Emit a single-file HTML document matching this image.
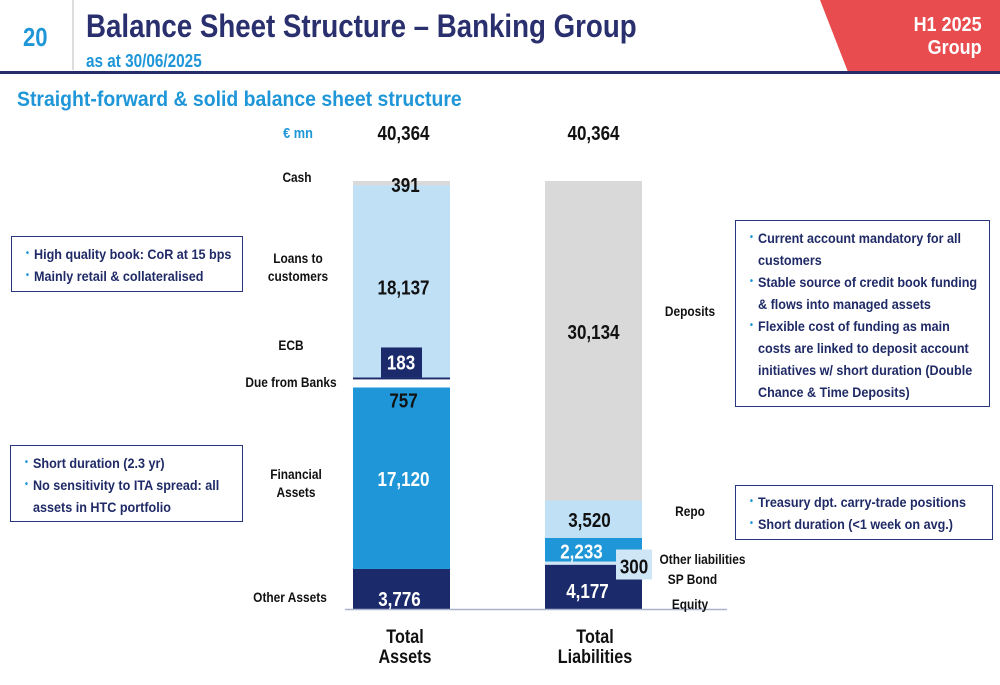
<!DOCTYPE html>
<html><head><meta charset="utf-8"><style>
body{margin:0;width:1000px;height:685px;overflow:hidden;background:#fff;font-family:"Liberation Sans",sans-serif;}
svg text{font-family:"Liberation Sans",sans-serif;}
.box{position:absolute;border:1.5px solid #2a3580;box-sizing:border-box;overflow:hidden;}
.in{position:absolute;left:0;top:0;transform:scaleX(0.9);transform-origin:0 0;color:#1f2a66;font-weight:bold;font-size:14px;line-height:22px;white-space:nowrap;}
.in div.b::before{content:"•";color:#1f96d8;font-size:10px;position:absolute;margin-left:-9px;}
.in div{position:relative;}
.lbl{position:absolute;font-weight:bold;font-size:14px;color:#111;text-align:center;line-height:18px;white-space:nowrap;transform:scaleX(0.85);}
</style></head><body>
<div style="position:absolute;left:0;top:0;width:1000px;height:76px;">
 <div style="position:absolute;left:23px;top:22px;font-size:26px;font-weight:bold;color:#1f96d8;transform:scaleX(0.85);transform-origin:0 0;">20</div>
 <div style="position:absolute;left:72px;top:0;width:2px;height:70px;background:#ddd;"></div>
 <div style="position:absolute;left:86px;top:8px;font-size:32px;font-weight:bold;color:#2a2f6e;white-space:nowrap;transform:scaleX(0.865);transform-origin:0 0;">Balance Sheet Structure – Banking Group</div>
 <div style="position:absolute;left:86px;top:51px;font-size:18px;font-weight:bold;color:#1f96d8;white-space:nowrap;transform:scaleX(0.85);transform-origin:0 0;">as at 30/06/2025</div>
 <svg style="position:absolute;left:820px;top:0" width="180" height="72"><polygon points="0,0 180,0 180,72 28,72" fill="#e84c4f"/></svg>
 <div style="position:absolute;right:18px;top:14px;text-align:right;color:#fff;font-weight:bold;font-size:20px;line-height:23px;transform:scaleX(0.9);transform-origin:100% 0;">H1 2025<br>Group</div>
 <div style="position:absolute;left:0;top:71px;width:1000px;height:3px;background:#262b6a;"></div>
</div>
<div style="position:absolute;left:17px;top:88px;font-size:21px;font-weight:bold;color:#1f96d8;white-space:nowrap;transform:scaleX(0.925);transform-origin:0 0;">Straight-forward &amp; solid balance sheet structure</div>

<svg id="chart" style="position:absolute;left:0;top:0" width="1000" height="685"></svg>

<div class="lbl" style="left:268px;top:125px;width:60px;color:#1f96d8;font-size:15px;">€ mn</div>
<div class="lbl" style="left:262px;top:168px;width:70px;">Cash</div>
<div class="lbl" style="left:258px;top:249px;width:80px;">Loans to<br>customers</div>
<div class="lbl" style="left:256px;top:336px;width:70px;">ECB</div>
<div class="lbl" style="left:236px;top:373px;width:110px;">Due from Banks</div>
<div class="lbl" style="left:256px;top:465px;width:80px;">Financial<br>Assets</div>
<div class="lbl" style="left:245px;top:588px;width:90px;">Other Assets</div>
<div class="lbl" style="left:655px;top:302px;width:70px;">Deposits</div>
<div class="lbl" style="left:655px;top:502px;width:70px;">Repo</div>
<div class="lbl" style="left:652px;top:550px;width:100px;">Other liabilities</div>
<div class="lbl" style="left:655px;top:570px;width:75px;">SP Bond</div>
<div class="lbl" style="left:655px;top:595px;width:70px;">Equity</div>
<div class="lbl" style="left:355px;top:628px;width:100px;font-size:19px;line-height:20px;">Total<br>Assets</div>
<div class="lbl" style="left:540px;top:628px;width:110px;font-size:19px;line-height:20px;">Total<br>Liabilities</div>

<div class="box" style="left:11px;top:236px;width:232px;height:56px;"><div class="in" style="left:22px;top:6px;"><div class="b">High quality book: CoR at 15 bps</div><div class="b">Mainly retail &amp; collateralised</div></div></div>
<div class="box" style="left:10px;top:445px;width:233px;height:77px;"><div class="in" style="left:22px;top:6px;"><div class="b">Short duration (2.3 yr)</div><div class="b">No sensitivity to ITA spread: all</div><div>assets in HTC portfolio</div></div></div>
<div class="box" style="left:735px;top:220px;width:255px;height:187px;"><div class="in" style="left:22px;top:6px;"><div class="b">Current account mandatory for all</div><div>customers</div><div class="b">Stable source of credit book funding</div><div>&amp; flows into managed assets</div><div class="b">Flexible cost of funding as main</div><div>costs are linked to deposit account</div><div>initiatives w/ short duration (Double</div><div>Chance &amp; Time Deposits)</div></div></div>
<div class="box" style="left:735px;top:485px;width:258px;height:55px;"><div class="in" style="left:22px;top:5px;"><div class="b">Treasury dpt. carry-trade positions</div><div class="b">Short duration (&lt;1 week on avg.)</div></div></div>

<script>
const assetCats=["Other Assets","Financial Assets","Due from Banks","ECB","Loans to customers","Cash"];
const assetVals=[3776,17120,757,183,18137,391];
const liabCats=["Equity","SP Bond","Other liabilities","Repo","Deposits"];
const liabVals=[4177,300,2233,3520,30134];
const totals=[40364,40364];

const svg=document.getElementById('chart');
const NS='http://www.w3.org/2000/svg';
const base=609, scale=428/40364;
const y=v=>base-v*scale;
function el(t,a){const e=document.createElementNS(NS,t);for(const k in a)e.setAttribute(k,a[k]);svg.appendChild(e);return e;}
const aFill=["#1b2a6b","#1f96d8","#ffffff","#1b2a6b","#bfe0f5","#d9d9d9"];
const lFill=["#1b2a6b","#cfe6f7","#1f96d8","#bfe0f5","#d9d9d9"];
function drawBar(vals,cats,fills,x,w,prefix){
  let cum=0;const segs=[];
  vals.forEach((v,i)=>{
    const y0=y(cum),y1=y(cum+v);
    const r=el('rect',{x:x,y:y1,width:w,height:Math.max(y0-y1,1),fill:fills[i]});
    
    
    segs.push([y0,y1]);cum+=v;
  });
  return segs;
}
function txt(s,x,yy,col,size,name){
  const t=el('text',{x:x,y:yy,fill:col,'font-size':size||19,'font-weight':'bold','text-anchor':'middle'});
  t.setAttribute('transform','translate('+x+' 0) scale(0.85 1) translate('+(-x)+' 0)');
  t.textContent=s;
  
  
}
const fmt=v=>v.toLocaleString('en-US');
const ax=353,lx=545,bw=97;
const a=drawBar(assetVals,assetCats,aFill,ax,bw,'asset');
const l=drawBar(liabVals,liabCats,lFill,lx,bw,'liability');
const eb=el('rect',{x:381,y:a[3][1]-30,width:41,height:30,fill:'#1b2a6b'});


const sb=el('rect',{x:616,y:l[1][1]-12,width:36,height:30,fill:'#cfe6f7'});


const bl=el('line',{x1:345,x2:727,y1:base+0.5,y2:base+0.5,stroke:'#a9b3cc','stroke-width':1.5});


const ac=ax+bw/2,lc=lx+bw/2;
txt(fmt(totals[0]),ac+2,140,'#111',20,'total-assets-value');
txt(fmt(totals[1]),lc,140,'#111',20,'total-liabilities-value');
const mid=s=>(s[0]+s[1])/2+7;
txt(fmt(assetVals[5]),ac+4,a[5][1]+11,'#111',20,'cash-value');
txt(fmt(assetVals[4]),ac+2,mid(a[4])+6,'#111',20,'loans-value');
txt(fmt(assetVals[3]),401,a[3][1]-8,'#fff',20,'ecb-value');
txt(fmt(assetVals[2]),ac+2,a[2][1]+28,'#111',20,'due-banks-value');
txt(fmt(assetVals[1]),ac+2,mid(a[1])+1,'#fff',20,'financial-value');
txt(fmt(assetVals[0]),ac-2,a[0][0]-3,'#fff',20,'other-assets-value');
txt(fmt(liabVals[4]),lc,mid(l[4])-9,'#111',20,'deposits-value');
txt(fmt(liabVals[3]),lc-4,mid(l[3])+1,'#111',20,'repo-value');
txt(fmt(liabVals[2]),lc-12,mid(l[2])+2,'#fff',20,'other-liab-value');
txt(fmt(liabVals[1]),634,l[1][1]+12,'#111',20,'sp-bond-value');
txt(fmt(liabVals[0]),lc-6,mid(l[0])+4,'#fff',20,'equity-value');
</script>
</body></html>
